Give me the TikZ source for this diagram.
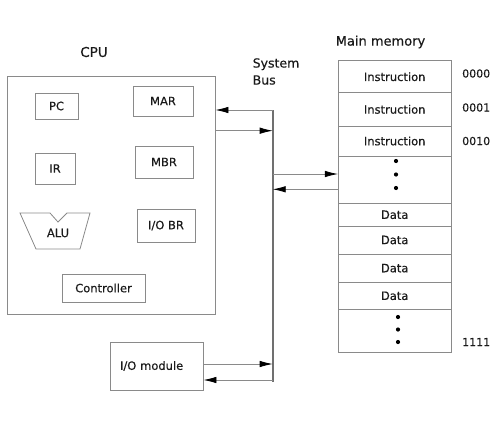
\documentclass[tikz,border=0pt]{standalone}
\usepackage{fontspec}
\setmainfont[FakeBold=0.5]{DejaVu Sans}
\usetikzlibrary{arrows.meta}
\definecolor{boxgray}{HTML}{8A8A8A}
\definecolor{busgray}{HTML}{707070}
\definecolor{txt}{HTML}{1A1A1A}
\tikzset{
  box/.style={draw=boxgray, line width=0.8pt, rectangle, inner sep=0pt, text=txt, font=\fontsize{11.5}{13}\selectfont},
  cell/.style={box, minimum width=112.7pt},
  lbl/.style={text=txt, inner sep=0pt},
  conn/.style={draw=boxgray, line width=0.8pt, -{Latex[length=13pt,width=6.5pt,color=black]}},
  dotm/.style={circle, fill=black, inner sep=0pt, minimum size=4.2pt},
}
\begin{document}
\begin{tikzpicture}[x=1pt,y=-1pt]
\useasboundingbox (0,0) rectangle (498,421);
% CPU
\node[lbl, font=\fontsize{13.5}{15}\selectfont] (cpulbl) at (94,52) {CPU};
\node[box, minimum width=208pt, minimum height=238pt] (cpu) at (111,195) {};
\node[box, minimum width=43pt, minimum height=26pt] (pc) at (56.5,106) {PC};
\node[box, minimum width=60pt, minimum height=30pt] (mar) at (163,101) {MAR};
\node[box, minimum width=40pt, minimum height=31pt] (ir) at (55,168.5) {IR};
\node[box, minimum width=58pt, minimum height=32pt] (mbr) at (164,162) {MBR};
\node[box, minimum width=58pt, minimum height=33pt] (iobr) at (166,225.5) {I/O BR};
\node[box, minimum width=83pt, minimum height=28pt] (ctrl) at (103.5,288) {Controller};
\draw[draw=boxgray, line width=0.8pt] (20,213) -- (50,213) -- (58,222) -- (67,213) -- (90,213) -- (80,249) -- (36,249) -- cycle;
\node[lbl, font=\fontsize{11.5}{13}\selectfont] (alu) at (58,233) {ALU};
% I/O module
\node[box, minimum width=93pt, minimum height=48pt, text width=73pt, align=left, inner xsep=10pt] (iom) at (156.5,366) {I/O module};
% System bus
\node[lbl, font=\fontsize{12.5}{17}\selectfont, align=left, anchor=west] (buslbl) at (252.5,71.5) {System\\Bus};
\coordinate (btop) at (272.7,110);
\coordinate (bbot) at (272.7,381.7);
\draw[draw=busgray, line width=1.8pt] (btop) -- (bbot);
% Main memory
\node[lbl, font=\fontsize{13}{15}\selectfont] (mmlbl) at (380.5,42) {Main memory};
\node[cell, minimum height=32pt] (m1) at (394.7,76.7) {Instruction};
\node[cell, minimum height=33.3pt] (m2) at (394.7,109.35) {Instruction};
\node[cell, minimum height=30pt] (m3) at (394.7,141) {Instruction};
\node[cell, minimum height=47.5pt] (m4) at (394.7,179.75) {};
\node[cell, minimum height=22.5pt] (m5) at (394.7,214.75) {Data};
\node[cell, minimum height=28pt] (m6) at (394.7,240) {Data};
\node[cell, minimum height=28.3pt] (m7) at (394.7,268.15) {Data};
\node[cell, minimum height=27pt] (m8) at (394.7,295.8) {Data};
\node[cell, minimum height=43pt] (m9) at (394.7,330.8) {};
\node[dotm] (d1) at (396,161) {};
\node[dotm] (d2) at (396,174.5) {};
\node[dotm] (d3) at (396,188) {};
\node[dotm] (d4) at (398,317) {};
\node[dotm] (d5) at (398,329.5) {};
\node[dotm] (d6) at (398,342) {};
% addresses
\node[lbl, anchor=west, font=\fontsize{11}{12}\selectfont] (a0) at (462,73.5) {0000};
\node[lbl, anchor=west, font=\fontsize{11}{12}\selectfont] (a1) at (462,107.5) {0001};
\node[lbl, anchor=west, font=\fontsize{11}{12}\selectfont] (a2) at (462,141) {0010};
\node[lbl, anchor=west, font=\fontsize{11}{12}\selectfont] (a3) at (462,342) {1111};
% connectors
\coordinate (b2) at (272.7,130.7);
\coordinate (b3) at (272.7,174);
\coordinate (b4) at (272.7,189.3);
\coordinate (b5) at (272.7,364);
\coordinate (b6) at (272.7,380);
\draw[conn] (btop) -- (btop -| cpu.east);
\draw[conn] (b2 -| cpu.east) -- (b2);
\draw[conn] (b3) -- (b3 -| m4.west);
\draw[conn] (b4 -| m4.west) -- (b4);
\draw[conn] (b5 -| iom.east) -- (b5);
\draw[conn] (b6) -- (b6 -| iom.east);
\end{tikzpicture}
\end{document}
